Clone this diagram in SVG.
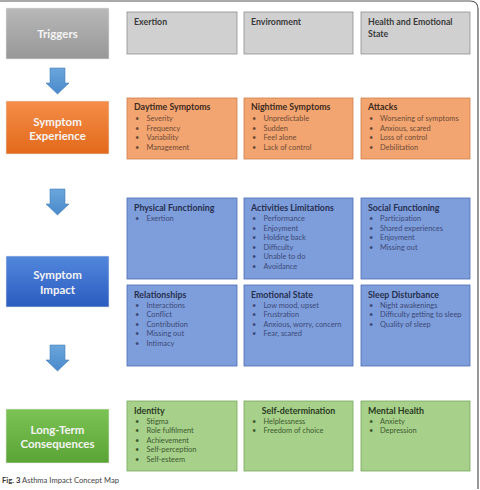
<svg xmlns="http://www.w3.org/2000/svg" width="480" height="490" viewBox="0 0 480 490">
<defs>
<linearGradient id="gGray" x1="0" y1="0" x2="0" y2="1"><stop offset="0" stop-color="#b8b8b8"/><stop offset="1" stop-color="#979797"/></linearGradient>
<linearGradient id="gOrange" x1="0" y1="0" x2="0" y2="1"><stop offset="0" stop-color="#f58d48"/><stop offset="1" stop-color="#e2691a"/></linearGradient>
<linearGradient id="gBlue" x1="0" y1="0" x2="0" y2="1"><stop offset="0" stop-color="#5287dc"/><stop offset="1" stop-color="#2b5cc0"/></linearGradient>
<linearGradient id="gGreen" x1="0" y1="0" x2="0" y2="1"><stop offset="0" stop-color="#7cc355"/><stop offset="1" stop-color="#5aa335"/></linearGradient>
<linearGradient id="gArrow" x1="0" y1="0" x2="0" y2="1"><stop offset="0" stop-color="#6aa6dc"/><stop offset="1" stop-color="#4a8acb"/></linearGradient>
<path id="arrow" d="M-7.5,0 H7.5 V15 H11.5 L0,26 L-11.5,15 H-7.5 Z"/>
</defs>
<style>
.lbl{font-family:Lato,"Liberation Sans",sans-serif;font-weight:bold;font-size:11.5px;fill:#f4f4f4;text-anchor:middle}
.ttl{font-family:Lato,"Liberation Sans",sans-serif;font-weight:bold;font-size:8.8px}
.itm{font-family:Lato,"Liberation Sans",sans-serif;font-size:7.4px}
.gray rect{fill:#d0d0d0;stroke:#8e8e8e;stroke-width:0.8}
.gray text{fill:#3a3a3a}
.orange rect{fill:#f3a571;stroke:#cf7f4a;stroke-width:0.8}
.orange .ttl{fill:#3b2a20}
.orange .itm{fill:#6e4a35}
.blue rect{fill:#7e9ddb;stroke:#4c6db5;stroke-width:0.8}
.blue .ttl{fill:#263050}
.blue .itm{fill:#3c4a78}
.green rect{fill:#a7d08b;stroke:#78a65a;stroke-width:0.8}
.green .ttl{fill:#2b3a22}
.green .itm{fill:#3d5a2e}
.cat rect{stroke:#e6e6e6;stroke-width:0.6}
.arr use{fill:url(#gArrow);stroke:#4a7fb8;stroke-width:0.6}
</style>
<rect width="480" height="490" fill="#ffffff"/>
<path d="M0,1 H470 Q478,1 478,9 V489" fill="none" stroke="#555" stroke-width="1.2"/>

<g id="cat-triggers" class="cat"><rect x="6" y="8" width="103" height="51" fill="url(#gGray)"/><text class="lbl" x="57.5" y="37.5">Triggers</text></g>
<g id="cat-experience" class="cat"><rect x="6" y="101" width="103" height="53" fill="url(#gOrange)"/><text class="lbl" x="57.5" y="125.5">Symptom</text><text class="lbl" x="57.5" y="140">Experience</text></g>
<g id="cat-impact" class="cat"><rect x="6" y="256" width="103" height="51" fill="url(#gBlue)"/><text class="lbl" x="57.5" y="279">Symptom</text><text class="lbl" x="57.5" y="294">Impact</text></g>
<g id="cat-longterm" class="cat"><rect x="6" y="409" width="103" height="54" fill="url(#gGreen)"/><text class="lbl" x="57.5" y="433.5">Long-Term</text><text class="lbl" x="57.5" y="448">Consequences</text></g>

<g id="connectors" class="arr">
<use href="#arrow" x="57.5" y="68"/>
<use href="#arrow" x="57.5" y="189"/>
<use href="#arrow" x="57.5" y="345"/>
</g>

<g id="exertion" class="gray"><rect x="127" y="12" width="110" height="42"/><text class="ttl" x="134" y="25">Exertion</text></g>
<g id="environment" class="gray"><rect x="244" y="12" width="109" height="42"/><text class="ttl" x="251" y="25">Environment</text></g>
<g id="health" class="gray"><rect x="361" y="12" width="109" height="42"/><text class="ttl" x="368" y="25">Health and Emotional</text><text class="ttl" x="368" y="37">State</text></g>

<g id="daytime" class="orange"><rect x="127" y="98" width="110" height="61"/><text class="ttl" x="134" y="110">Daytime Symptoms</text>
<g class="itm"><text x="135" y="121">•</text><text x="146.5" y="121">Severity</text><text x="135" y="130.6">•</text><text x="146.5" y="130.6">Frequency</text><text x="135" y="140.2">•</text><text x="146.5" y="140.2">Variability</text><text x="135" y="149.8">•</text><text x="146.5" y="149.8">Management</text></g></g>
<g id="nightime" class="orange"><rect x="244" y="98" width="109" height="61"/><text class="ttl" x="251" y="110">Nightime Symptoms</text>
<g class="itm"><text x="252" y="121">•</text><text x="263.5" y="121">Unpredictable</text><text x="252" y="130.6">•</text><text x="263.5" y="130.6">Sudden</text><text x="252" y="140.2">•</text><text x="263.5" y="140.2">Feel alone</text><text x="252" y="149.8">•</text><text x="263.5" y="149.8">Lack of control</text></g></g>
<g id="attacks" class="orange"><rect x="361" y="98" width="109" height="61"/><text class="ttl" x="368" y="110">Attacks</text>
<g class="itm"><text x="369" y="121">•</text><text x="380" y="121">Worsening of symptoms</text><text x="369" y="130.6">•</text><text x="380" y="130.6">Anxious, scared</text><text x="369" y="140.2">•</text><text x="380" y="140.2">Loss of control</text><text x="369" y="149.8">•</text><text x="380" y="149.8">Debilitation</text></g></g>

<g id="physical" class="blue"><rect x="127" y="198" width="110" height="81"/><text class="ttl" x="134" y="210.5">Physical Functioning</text>
<g class="itm"><text x="135" y="221">•</text><text x="146.5" y="221">Exertion</text></g></g>
<g id="activities" class="blue"><rect x="244" y="198" width="109" height="81"/><text class="ttl" x="251" y="210.5">Activities Limitations</text>
<g class="itm"><text x="252" y="221">•</text><text x="263.5" y="221">Performance</text><text x="252" y="230.6">•</text><text x="263.5" y="230.6">Enjoyment</text><text x="252" y="240.2">•</text><text x="263.5" y="240.2">Holding back</text><text x="252" y="249.8">•</text><text x="263.5" y="249.8">Difficulty</text><text x="252" y="259.4">•</text><text x="263.5" y="259.4">Unable to do</text><text x="252" y="269">•</text><text x="263.5" y="269">Avoidance</text></g></g>
<g id="social" class="blue"><rect x="361" y="198" width="109" height="81"/><text class="ttl" x="368" y="210.5">Social Functioning</text>
<g class="itm"><text x="369" y="221">•</text><text x="380" y="221">Participation</text><text x="369" y="230.6">•</text><text x="380" y="230.6">Shared experiences</text><text x="369" y="240.2">•</text><text x="380" y="240.2">Enjoyment</text><text x="369" y="249.8">•</text><text x="380" y="249.8">Missing out</text></g></g>

<g id="relationships" class="blue"><rect x="127" y="285" width="110" height="81"/><text class="ttl" x="134" y="298">Relationships</text>
<g class="itm"><text x="135" y="307.6">•</text><text x="146.5" y="307.6">Interactions</text><text x="135" y="317.2">•</text><text x="146.5" y="317.2">Conflict</text><text x="135" y="326.8">•</text><text x="146.5" y="326.8">Contribution</text><text x="135" y="336.4">•</text><text x="146.5" y="336.4">Missing out</text><text x="135" y="346">•</text><text x="146.5" y="346">Intimacy</text></g></g>
<g id="emotional" class="blue"><rect x="244" y="285" width="109" height="81"/><text class="ttl" x="251" y="298">Emotional State</text>
<g class="itm"><text x="252" y="307.6">•</text><text x="263.5" y="307.6">Low mood, upset</text><text x="252" y="317.2">•</text><text x="263.5" y="317.2">Frustration</text><text x="252" y="326.8">•</text><text x="263.5" y="326.8">Anxious, worry, concern</text><text x="252" y="336.4">•</text><text x="263.5" y="336.4">Fear, scared</text></g></g>
<g id="sleep" class="blue"><rect x="361" y="285" width="109" height="81"/><text class="ttl" x="368" y="298">Sleep Disturbance</text>
<g class="itm"><text x="369" y="307.6">•</text><text x="380" y="307.6">Night awakenings</text><text x="369" y="317.2">•</text><text x="380" y="317.2">Difficulty getting to sleep</text><text x="369" y="326.8">•</text><text x="380" y="326.8">Quality of sleep</text></g></g>

<g id="identity" class="green"><rect x="127" y="401" width="110" height="70"/><text class="ttl" x="134" y="414">Identity</text>
<g class="itm"><text x="135" y="423.6">•</text><text x="146.5" y="423.6">Stigma</text><text x="135" y="433.2">•</text><text x="146.5" y="433.2">Role fulfilment</text><text x="135" y="442.8">•</text><text x="146.5" y="442.8">Achievement</text><text x="135" y="452.4">•</text><text x="146.5" y="452.4">Self-perception</text><text x="135" y="462">•</text><text x="146.5" y="462">Self-esteem</text></g></g>
<g id="selfdetermination" class="green"><rect x="244" y="401" width="109" height="70"/><text class="ttl" x="298.5" y="414" text-anchor="middle">Self-determination</text>
<g class="itm"><text x="252" y="423.6">•</text><text x="263.5" y="423.6">Helplessness</text><text x="252" y="433.2">•</text><text x="263.5" y="433.2">Freedom of choice</text></g></g>
<g id="mentalhealth" class="green"><rect x="361" y="401" width="109" height="70"/><text class="ttl" x="368" y="414">Mental Health</text>
<g class="itm"><text x="369" y="423.6">•</text><text x="380" y="423.6">Anxiety</text><text x="369" y="433.2">•</text><text x="380" y="433.2">Depression</text></g></g>

<text x="2" y="483" font-family="Lato,'Liberation Sans',sans-serif" font-size="7.6px" fill="#444"><tspan font-weight="bold" fill="#333">Fig. 3</tspan> Asthma Impact Concept Map</text>
</svg>
